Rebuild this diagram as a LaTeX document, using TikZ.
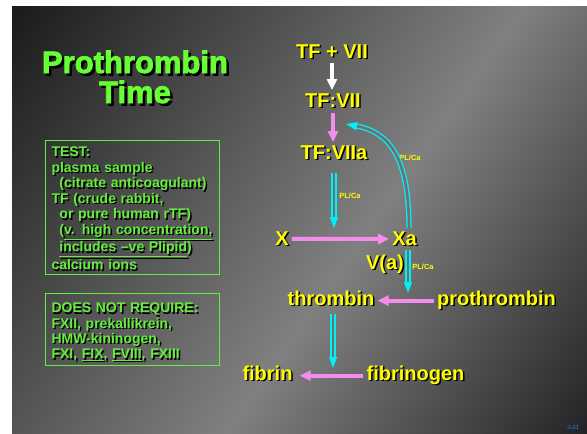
\documentclass[tikz,border=0pt]{standalone}
\usepackage{fontspec}
\setmainfont{Liberation Sans}
\newfontfamily\titlefont{Liberation Sans}[BoldFeatures={FakeBold=2.5}]
\usetikzlibrary{arrows.meta,calc}
\definecolor{bg0}{RGB}{20,20,20}
\definecolor{bgA}{RGB}{26,26,26}
\definecolor{bgB}{RGB}{128,128,128}
\definecolor{bgC}{RGB}{35,35,35}
\definecolor{bgD}{RGB}{30,30,30}
\definecolor{ylw}{RGB}{255,255,0}
\definecolor{grn}{RGB}{102,255,51}
\definecolor{grnb}{RGB}{100,238,60}
\definecolor{pinkc}{RGB}{245,140,235}
\definecolor{cyanc}{RGB}{0,240,250}
\definecolor{gapc}{RGB}{112,112,112}
\definecolor{bluec}{RGB}{30,110,210}
\pgfdeclarehorizontalshading{bgshade}{100bp}{color(0bp)=(bg0); color(15bp)=(bgA); color(56bp)=(bgB); color(85bp)=(bgC); color(100bp)=(bgD)}
\newcommand{\sh}[2][1.5pt]{\mbox{\rlap{\kern#1\raisebox{-#1}{\color{black}#2}}#2}}
\begin{document}
\begin{tikzpicture}[x=1pt,y=-1pt,
  titlest/.style={font=\titlefont\fontsize{31}{34}\selectfont\bfseries, text=grn, inner sep=0pt, anchor=base},
  lab/.style={font=\fontsize{20}{24}\selectfont\bfseries, text=ylw, inner sep=3pt, anchor=base},
  plca/.style={font=\fontsize{7.5}{9}\selectfont\bfseries, text=ylw, inner sep=0pt},
  boxst/.style={draw=grnb, line width=1pt, text=grnb, align=left, text width=162pt,
     inner xsep=6pt, inner ysep=0pt, anchor=north west, minimum width=174pt},
  pinkarr/.style={draw=pinkc, line width=4pt, -{Triangle[length=11pt,width=10pt]}},
  whitearr/.style={draw=white, line width=3.2pt, -{Triangle[length=11pt,width=10pt]}},
  cyanarr/.style={draw=cyanc, line width=1.3pt, double=gapc, double distance=2.6pt,
     -{Triangle[length=11pt,width=8pt]}}
]
\useasboundingbox (0,0) rectangle (587,434);
\fill[white] (0,0) rectangle (587,434);
\begin{scope}[y=1pt]
\shade[shading=bgshade, shading angle=-35] (12,-434) rectangle (587,-6);
\end{scope}

% title
\node[titlest] (t1) at (135,73) {\sh[2.5pt]{Prothrombin}};
\node[titlest] (t2) at (135,103) {\sh[2.5pt]{Time}};

% boxes
\node[boxst, minimum height=134pt, font=\fontsize{14}{15.5}\selectfont\bfseries] (test) at (45,140) {%
\rule{0pt}{13pt}\sh{TEST:}\\
\sh{plasma sample}\\
\hspace*{8pt}\sh{(citrate anticoagulant)}\\
\sh{TF (crude rabbit,}\\
\hspace*{8pt}\sh{or pure human rTF)}\\
\hspace*{8pt}\sh{(\underline{v. high concentration,}}\\
\hspace*{8pt}\sh{\underline{includes \textendash ve Plipid})}\\
\sh{calcium ions}};
\node[boxst, minimum height=72pt, font=\fontsize{14}{15.3}\selectfont\bfseries] (notreq) at (45,293) {%
\rule{0pt}{16pt}\sh{DOES NOT REQUIRE:}\\
\sh{FXII, prekallikrein,}\\
\sh{HMW-kininogen,}\\
\sh{FXI, \underline{FIX}, \underline{FVIII}, FXIII}};

% pathway labels
\node[lab] (tf7) at (332,58) {\sh{TF + VII}};
\node[lab] (tfvii) at (333,107) {\sh{TF:VII}};
\node[lab] (tfviia) at (334,159) {\sh{TF:VIIa}};
\node[lab] (x) at (282,245) {\sh{X}};
\node[lab] (xa) at (404.5,245) {\sh{Xa}};
\node[lab] (va) at (385,269) {\sh{V(a)}};
\node[lab] (thr) at (331,305) {\sh{thrombin}};
\node[lab] (pro) at (496.5,305) {\sh{prothrombin}};
\node[lab] (fib) at (267.5,380) {\sh{fibrin}};
\node[lab] (fibg) at (415.5,380) {\sh{fibrinogen}};

\node[plca] (pl1) at (350,196) {PL/Ca};
\node[plca] (pl2) at (410,158) {PL/Ca};
\node[plca] (pl3) at (423,267) {PL/Ca};

\node[font=\fontsize{6}{7}\selectfont\bfseries, text=bluec, inner sep=0pt] (cr) at (573,427) {©JJ};

% coordinates for free ends
\coordinate (c1) at (334,228);
\coordinate (c2) at (346,124);
\coordinate (c3) at (408,293);
\coordinate (c4) at (333,368);

% arrows
\draw[whitearr] (tf7.south) -- (tf7.south |- tfvii.north);
\draw[pinkarr, shorten <=1.5pt] (tfvii.south) -- (tfvii.south |- tfviia.north);
\draw[cyanarr, shorten <=9pt] (tfviia.south) -- (c1);
\draw[pinkarr] (x.east) -- (xa.west);
\draw[cyanarr] ([xshift=4.5pt]xa.north) .. controls +(0,-73) and +(42,8) .. (c2);
\draw[cyanarr] ([xshift=3.5pt]xa.south) -- (c3);
\draw[pinkarr] (pro.west) -- (pro.west -| thr.east);
\draw[cyanarr, shorten <=4pt] ([xshift=2pt]thr.south) -- (c4);
\draw[pinkarr, shorten >=4pt] (fibg.west) -- (fibg.west -| fib.east);
\end{tikzpicture}
\end{document}
